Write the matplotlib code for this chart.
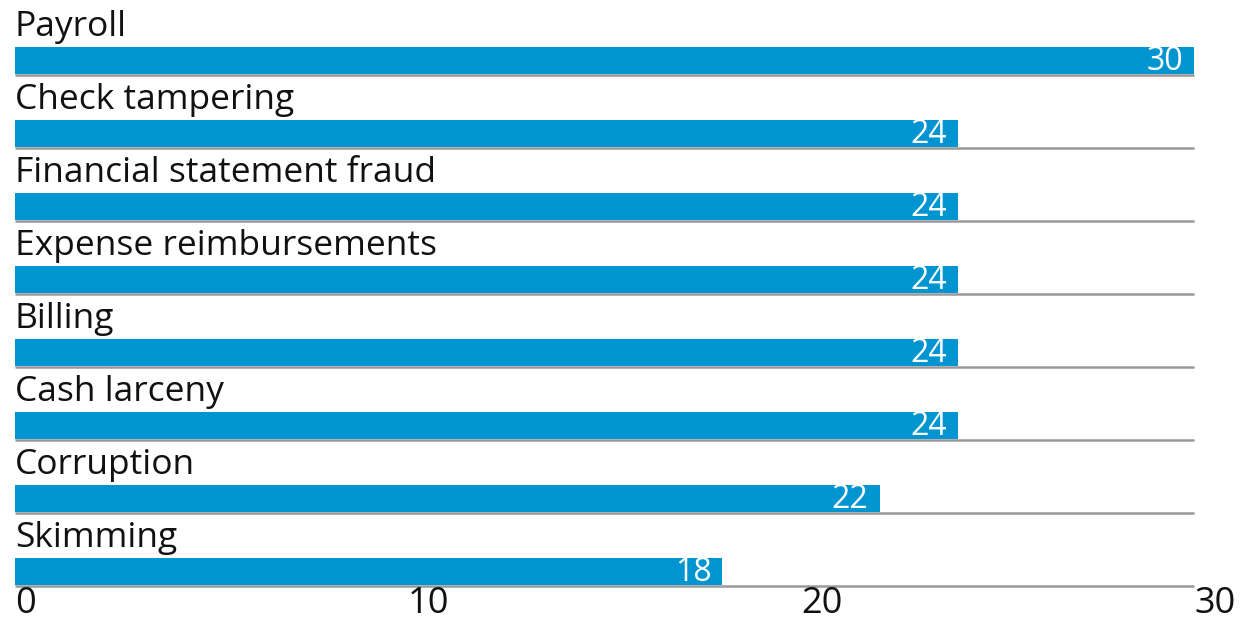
import matplotlib
matplotlib.use("Agg")
import matplotlib.pyplot as plt

categories = ["Payroll", "Check tampering", "Financial statement fraud",
              "Expense reimbursements", "Billing", "Cash larceny",
              "Corruption", "Skimming"]
values = [30, 24, 24, 24, 24, 24, 22, 18]
tick_values = [0, 10, 20, 30]
tick_labels = ["0", "10", "20", "30"]

W, H = 1243, 622
fig = plt.figure(figsize=(W / 100, H / 100), dpi=100)
left_px, right_px = 15, 1194
bottom_px = 586
row_px = 73.0
ax = fig.add_axes([left_px / W, (H - bottom_px) / H, (right_px - left_px) / W, bottom_px / H])
nrows_span = bottom_px / row_px
ax.set_ylim(len(categories), len(categories) - nrows_span)
ax.set_xlim(0, 30)

label_font = "Open Sans"
bar_color = "#0094d0"
bar_h = 27 / row_px
bar_gap = 1.2 / row_px
for i, (cat, v) in enumerate(zip(categories, values)):
    line_y = i + 1
    ax.barh(line_y - bar_gap - bar_h / 2, v, height=bar_h, color=bar_color, zorder=2)
    ax.text(0.0, line_y - 0.53, cat, fontsize=25.5, family=label_font,
            ha="left", va="baseline", color="#111111")
    ax.annotate(str(v), xy=(v, line_y - 0.065), xytext=(-8, 0),
                textcoords="offset points", ha="right", va="baseline",
                color="white", fontsize=23, family="Open Sans", zorder=3)
ax.hlines([i + 1 for i in range(len(categories))], 0, 30, color="#999999",
          linewidth=1.8, zorder=1, clip_on=False)

for s in ax.spines.values():
    s.set_visible(False)
ax.set_yticks([])
ax.set_xticks(tick_values)
ax.set_xticklabels(tick_labels, ha="left", fontsize=26, family=label_font, color="#111111")
ax.tick_params(axis="x", length=0, pad=0)

fig.savefig("out.png", dpi=100)
